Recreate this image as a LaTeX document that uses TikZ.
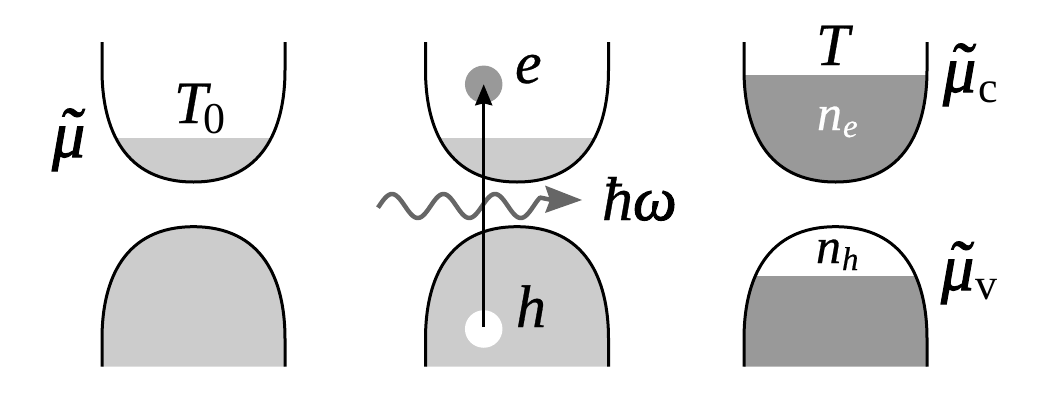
\documentclass[tikz,border=0pt]{standalone}
\usepackage{fontspec}
\setmainfont{Liberation Serif}[ItalicFeatures={FakeBold=0.5}]
\newfontfamily\hvit{Liberation Serif}[ItalicFeatures={FakeBold=1.6}]
\usetikzlibrary{arrows.meta}
\definecolor{lightfill}{HTML}{CCCCCC}
\definecolor{darkfill}{HTML}{999999}
\definecolor{wavegray}{HTML}{666666}
\newcommand{\upband}{(102,42) -- (102,70) .. controls (102,130) and (125,182) .. (193.5,182) .. controls (262,182) and (285,130) .. (285,70) -- (285,42)}
\newcommand{\lowband}{(102,366.7) -- (102,338.7) .. controls (102,278.7) and (125,226.7) .. (193.5,226.7) .. controls (262,226.7) and (285,278.7) .. (285,338.7) -- (285,366.7)}
\newcommand{\uppart}[3]{%
  \begin{scope}[xshift=#1pt]
    \begin{scope}\clip (90,#2) rectangle (300,200); \fill[#3] \upband -- cycle; \end{scope}
    \draw[bandline] \upband;
  \end{scope}}
\newcommand{\lowpart}[3]{%
  \begin{scope}[xshift=#1pt]
    \begin{scope}\clip (90,#2) rectangle (300,370); \fill[#3] \lowband -- cycle; \end{scope}
    \draw[bandline] \lowband;
  \end{scope}}
\newcommand{\mutil}{\rlap{\kern.1em\raisebox{.06em}{\hvit\itshape\char"02DC}}{\hvit\itshape μ}}
\begin{document}
\begin{tikzpicture}[x=1pt,y=-1pt,
  bandline/.style={line width=3pt,black},
  lab/.style={anchor=base west,inner sep=0pt,outer sep=0pt,font=\fontsize{60}{62}\selectfont\itshape},
  mulab/.style={anchor=base west,inner sep=0pt,outer sep=0pt,font=\fontsize{66}{68}\selectfont},
  sublab/.style={anchor=base west,inner sep=0pt,outer sep=0pt,font=\fontsize{33}{35}\selectfont\itshape},
  nlab/.style={anchor=base west,inner sep=0pt,outer sep=0pt,font=\fontsize{50}{52}\selectfont\itshape},
  uplab/.style={anchor=base west,inner sep=0pt,outer sep=0pt,font=\fontsize{44}{46}\selectfont},
  dot/.style={circle,inner sep=0pt,outer sep=0pt,minimum size=37.5pt,draw=none}]
\useasboundingbox (0,0) rectangle (1046,413);
% left
\uppart{0}{138}{lightfill}
\lowpart{0}{220}{lightfill}
% middle
\uppart{323.5}{138}{lightfill}
\lowpart{323.5}{220}{lightfill}
% right
\uppart{642}{75}{darkfill}
\lowpart{642}{276.7}{darkfill}
% carriers
\node[dot,fill=darkfill] (edot) at (483.7,84.3) {};
\node[dot,fill=white] (hdot) at (483.7,329) {};
% photon
\coordinate (wtip) at (582,200);
\draw[wavegray,line width=4.5pt,line join=round] plot[domain=378:540,samples=90] (\x,{206-12*cos((\x-392)/51.5*360)}) -- (552,200);
\fill[wavegray] (545,185.5) -- (wtip) -- (545,213) -- (550,200) -- cycle;
% excitation arrow
\draw[line width=3pt,black,shorten <=2pt,-{Stealth[length=21pt,width=17pt,inset=2pt]}] (hdot.center) -- (edot.center);
% labels
\node[lab] (t0) at (174,123) {T};
\node[uplab] (t0s) at (203,133) {0};
\node[mulab] (mu) at (52,157) {\mutil};
\node[lab] (e) at (515,83) {e};
\node[lab] (h) at (516,327) {h};
\node[lab,font=\fontsize{62}{64}\selectfont\itshape] (hw) at (602,220) {ħ{\hvit\itshape ω}};
\node[lab] (t) at (816,65) {T};
\node[nlab,white] (ne) at (817,130) {n};
\node[sublab,white] (nes) at (843,137) {e};
\node[nlab] (nh) at (816,263) {n};
\node[sublab] (nhs) at (842,270) {h};
\node[mulab] (muc) at (943,92) {\mutil};
\node[uplab] (mucs) at (978,102) {c};
\node[mulab] (muv) at (941,290) {\mutil};
\node[uplab] (muvs) at (975,299) {v};
\end{tikzpicture}
\end{document}
